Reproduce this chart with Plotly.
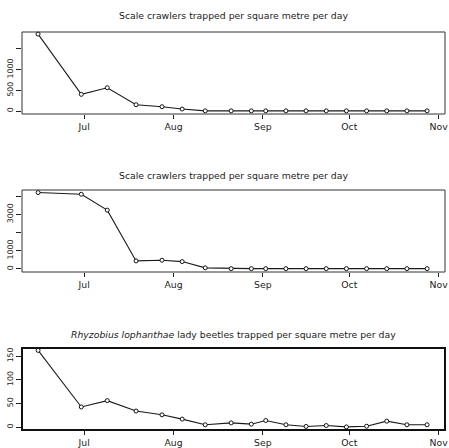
import plotly.graph_objects as go

dates = ["2009-06-15", "2009-06-30", "2009-07-09", "2009-07-19", "2009-07-28",
         "2009-08-04", "2009-08-12", "2009-08-21", "2009-08-28", "2009-09-02",
         "2009-09-09", "2009-09-16", "2009-09-23", "2009-09-30", "2009-10-07",
         "2009-10-14", "2009-10-21", "2009-10-28"]
crawlers_a = [1860, 403, 563, 152, 104, 48, 4, 4, 4, 4, 4, 4, 4, 4, 4, 4, 4, 4]
crawlers_b = [4208, 4115, 3240, 437, 475, 400, 55, 10, 10, 10, 10, 10, 10, 10, 10, 10, 10, 10]
beetles = [162, 42.6, 56, 34, 26, 17, 5, 9, 6.3, 14, 5, 1.5, 3.5, 0.5, 2, 12.6, 5, 5]

month_ticks = ["2009-07-01", "2009-08-01", "2009-09-01", "2009-10-01", "2009-11-01"]
month_labels = ["Jul", "Aug", "Sep", "Oct", "Nov"]

titles = ["Scale crawlers trapped per square metre per day",
          "Scale crawlers trapped per square metre per day",
          "<i>Rhyzobius lophanthae</i> lady beetles trapped per square metre per day"]

ytick_vals = [[0, 500, 1000, 1500], [0, 1000, 2000, 3000, 4000], [0, 50, 100, 150]]
ytick_text = [["0", "500", "1000", ""], ["0", "1000", "", "3000", ""], ["0", "50", "100", "150"]]
y_ranges = [[-72, 1910], [-175, 4350], [-6, 167]]

W, H = 449, 448
box_left, box_right = 22, 445
boxes_px = [(32, 114), (190, 272), (348, 430)]
title_px = [16, 176, 334]
x_range = ["2009-06-09 10:00", "2009-11-03 05:00"]

FONT = "DejaVu Sans"
fig = go.Figure()
layout = dict(width=W, height=H, margin=dict(l=0, r=0, t=0, b=0),
              paper_bgcolor="white", plot_bgcolor="white", showlegend=False,
              font=dict(family=FONT, color="#222"))
shapes = []
annotations = []
series = [crawlers_a, crawlers_b, beetles]
for i in range(3):
    n = "" if i == 0 else str(i + 1)
    top, bot = boxes_px[i]
    fig.add_trace(go.Scatter(
        x=dates, y=series[i], mode="lines+markers",
        xaxis="x" + n, yaxis="y" + n,
        line=dict(color="#1a1a1a", width=1.1),
        marker=dict(symbol="circle", size=4, color="white",
                    line=dict(color="#111", width=1)),
        cliponaxis=False))
    layout["xaxis" + n] = dict(
        domain=[box_left / W, box_right / W], anchor="y" + n, type="date",
        range=x_range, tickvals=month_ticks, ticktext=month_labels,
        ticks="outside", ticklen=4, tickcolor="#222", showgrid=False,
        zeroline=False, showline=False, tickfont=dict(size=9.3, family=FONT, color="#222"),
        automargin=False)
    layout["yaxis" + n] = dict(
        domain=[(H - bot) / H, (H - top) / H], anchor="x" + n,
        range=y_ranges[i], tickvals=ytick_vals[i], ticktext=ytick_text[i],
        ticks="outside", ticklen=5, tickcolor="#222", showgrid=False,
        zeroline=False, showline=False, tickangle=-90,
        tickfont=dict(size=7.8, family=FONT, color="#222"), automargin=False)
    shapes.append(dict(type="rect", xref="paper", yref="paper",
                       x0=box_left / W, x1=box_right / W,
                       y0=(H - bot) / H, y1=(H - top) / H,
                       line=dict(color="#111" if i == 2 else "#333", width=2 if i == 2 else 1),
                       layer="above"))
    annotations.append(dict(text=titles[i], xref="paper", yref="paper",
                            x=(box_left + box_right) / 2 / W, y=1 - title_px[i] / H,
                            xanchor="center", yanchor="middle", showarrow=False,
                            font=dict(size=9.3, family=FONT, color="#222")))
layout["shapes"] = shapes
layout["annotations"] = annotations
fig.update_layout(**layout)
fig.write_html("out.html", config={"displayModeBar": False},
               post_script="document.body.style.margin='0';document.body.style.padding='0';")
